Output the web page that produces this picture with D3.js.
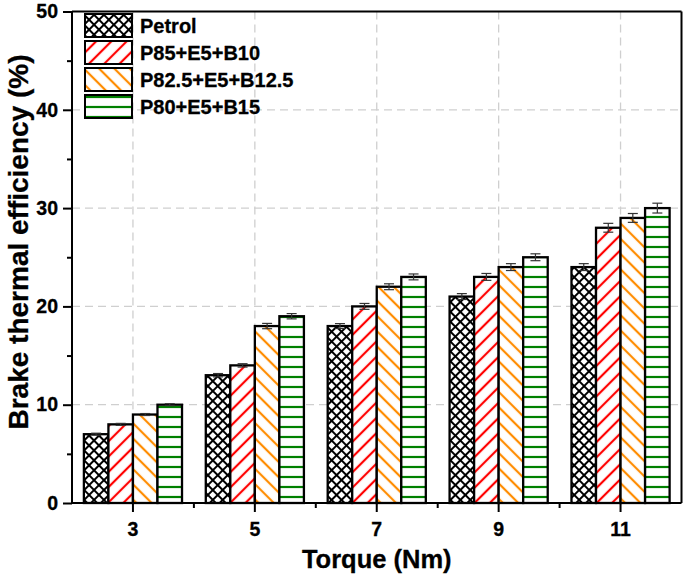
<!DOCTYPE html>
<html>
<head>
<meta charset="utf-8">
<script src="https://cdn.jsdelivr.net/npm/d3@7/dist/d3.min.js"></script>
<style>
  html, body { margin: 0; padding: 0; background: #fff; }
  svg { display: block; }
  text { font-family: "Liberation Sans", Arial, sans-serif; font-weight: bold; }
</style>
</head>
<body>
<div id="chart"></div>
<script>
const categories = ["3", "5", "7", "9", "11"];
const seriesNames = ["Petrol", "P85+E5+B10", "P82.5+E5+B12.5", "P80+E5+B15"];
const petrol = [7, 13, 18, 21, 24];
const p85 = [8, 14, 20, 23, 28];
const p825 = [9, 18, 22, 24, 29];
const p80 = [10, 19, 23, 25, 30];
const petrolErr = [0.1, 0.17, 0.25, 0.3, 0.35];
const p85Err = [0.1, 0.17, 0.3, 0.35, 0.45];
const p825Err = [0.1, 0.27, 0.3, 0.35, 0.45];
const p80Err = [0.1, 0.27, 0.3, 0.35, 0.5];
const yTicks = [0, 10, 20, 30, 40, 50];
const yMinorTicks = [5, 15, 25, 35, 45];

const seriesValues = [petrol, p85, p825, p80];
const seriesErrors = [petrolErr, p85Err, p825Err, p80Err];

const W = 685, H = 577;
const L = 72, R = 681.5, T = 11.5, B = 503;

const svg = d3.select("#chart").append("svg").attr("width", W).attr("height", H);
const defs = svg.append("defs");

// patterns
function linePattern(id, color, size, angle, sw) {
  const p = defs.append("pattern").attr("id", id)
    .attr("patternUnits", "userSpaceOnUse")
    .attr("width", size).attr("height", size)
    .attr("patternTransform", `rotate(${angle})`);
  p.append("rect").attr("width", size).attr("height", size).attr("fill", "#fff");
  p.append("line").attr("x1", 0).attr("y1", -1).attr("x2", 0).attr("y2", size + 1)
    .attr("stroke", color).attr("stroke-width", sw);
  p.append("line").attr("x1", size).attr("y1", -1).attr("x2", size).attr("y2", size + 1)
    .attr("stroke", color).attr("stroke-width", sw);
  return p;
}
const cs = 7;
const cross = linePattern("pat0", "#000", cs, 45, 2);
cross.append("line").attr("x1", -1).attr("y1", 0).attr("x2", cs + 1).attr("y2", 0)
  .attr("stroke", "#000").attr("stroke-width", 2);
cross.append("line").attr("x1", -1).attr("y1", cs).attr("x2", cs + 1).attr("y2", cs)
  .attr("stroke", "#000").attr("stroke-width", 2);
linePattern("pat1", "#ff0000", 10.8, 45, 2.2);
linePattern("pat2", "#ff8c00", 10.8, -45, 2.2);
const hp = defs.append("pattern").attr("id", "pat3")
  .attr("patternUnits", "userSpaceOnUse").attr("width", 10).attr("height", 10)
  .attr("y", 2);
hp.append("rect").attr("width", 10).attr("height", 10).attr("fill", "#fff");
hp.append("line").attr("x1", 0).attr("y1", 5).attr("x2", 10).attr("y2", 5)
  .attr("stroke", "#008000").attr("stroke-width", 2.2);

const x0 = d3.scaleBand().domain(categories).range([L, R]).paddingInner(0).paddingOuter(0);
const groupW = x0.bandwidth() * 0.805;
const x1 = d3.scaleBand().domain(d3.range(seriesNames.length)).range([0, groupW]);
const y = d3.scaleLinear().domain([0, 50]).range([B, T]);

// grid
const grid = svg.append("g");
yTicks.filter(v => v > 0 && v < 50).forEach(v => {
  grid.append("line").attr("x1", L).attr("x2", R).attr("y1", y(v)).attr("y2", y(v))
    .attr("stroke", "#cfcfcf").attr("stroke-width", 1.3).attr("stroke-dasharray", "8,5");
});
categories.forEach(c => {
  const cx = x0(c) + x0.bandwidth() / 2;
  grid.append("line").attr("x1", cx).attr("x2", cx).attr("y1", T).attr("y2", B)
    .attr("stroke", "#cfcfcf").attr("stroke-width", 1.3).attr("stroke-dasharray", "8,5");
});

// bars
const barsG = svg.append("g");
seriesValues.forEach((vals, si) => {
  barsG.selectAll(null).data(vals).enter().append("rect")
    .attr("x", (d, i) => x0(categories[i]) + (x0.bandwidth() - groupW) / 2 + x1(si))
    .attr("y", d => y(d))
    .attr("width", x1.bandwidth())
    .attr("height", d => B - y(d))
    .attr("fill", `url(#pat${si})`)
    .attr("stroke", "#000").attr("stroke-width", 2.3);
});

// error bars
const errG = svg.append("g").attr("stroke", "#333").attr("stroke-width", 1.2);
seriesValues.forEach((vals, si) => {
  vals.forEach((v, i) => {
    const e = seriesErrors[si][i];
    const cx = x0(categories[i]) + (x0.bandwidth() - groupW) / 2 + x1(si) + x1.bandwidth() / 2;
    errG.append("line").attr("x1", cx).attr("x2", cx).attr("y1", y(v - e)).attr("y2", y(v + e));
    [v - e, v + e].forEach(yy => {
      errG.append("line").attr("x1", cx - 5).attr("x2", cx + 5).attr("y1", y(yy)).attr("y2", y(yy));
    });
  });
});

// frame
svg.append("line").attr("x1", L).attr("x2", R).attr("y1", T).attr("y2", T).attr("stroke", "#000").attr("stroke-width", 2);
svg.append("line").attr("x1", R).attr("x2", R).attr("y1", T).attr("y2", B).attr("stroke", "#000").attr("stroke-width", 2);

// y axis
const yAxis = d3.axisLeft(y).tickValues(yTicks).tickSize(9).tickPadding(5).tickFormat(d3.format("d"));
const gy = svg.append("g").attr("transform", `translate(${L},0)`).call(yAxis);
gy.select(".domain").attr("stroke-width", 2).attr("d", `M0,${B}V${T}`);
gy.selectAll(".tick line").attr("stroke-width", 2);
gy.selectAll(".tick text").attr("font-size", 19.5).attr("font-family", "Liberation Sans, Arial, sans-serif").attr("font-weight", "bold").attr("fill", "#000")
  .attr("stroke", "#000").attr("stroke-width", 0.3);
const gym = svg.append("g").attr("transform", `translate(${L},0)`)
  .call(d3.axisLeft(y).tickValues(yMinorTicks).tickSize(5).tickFormat(""));
gym.select(".domain").remove();
gym.selectAll(".tick line").attr("stroke-width", 2);

// x axis
const xAxis = d3.axisBottom(x0).tickSize(9).tickPadding(10);
const gx = svg.append("g").attr("transform", `translate(0,${B})`).call(xAxis);
gx.select(".domain").attr("stroke-width", 2).attr("d", `M${L},0H${R}`);
gx.selectAll(".tick line").attr("stroke-width", 2);
gx.selectAll(".tick text").attr("font-size", 19.5).attr("font-family", "Liberation Sans, Arial, sans-serif").attr("font-weight", "bold").attr("fill", "#000")
  .attr("stroke", "#000").attr("stroke-width", 0.3);
// minor x ticks between categories
const minorX = categories.slice(1).map(c => x0(c));
svg.append("g").selectAll("line").data(minorX).enter().append("line")
  .attr("x1", d => d).attr("x2", d => d).attr("y1", B).attr("y2", B + 5)
  .attr("stroke", "#000").attr("stroke-width", 2);

// titles
svg.append("text").attr("x", (L + R) / 2).attr("y", 568).attr("text-anchor", "middle")
  .attr("font-size", 25.5).attr("stroke", "#000").attr("stroke-width", 0.3).text("Torque (Nm)");
svg.append("text").attr("transform", `translate(28,${242}) rotate(-90)`).attr("text-anchor", "middle")
  .attr("font-size", 28).attr("stroke", "#000").attr("stroke-width", 0.3).text("Brake thermal efficiency (%)");

// legend
const lg = svg.append("g");
seriesNames.forEach((name, i) => {
  const top = 14 + i * 27;
  lg.append("rect").attr("x", 85).attr("y", top).attr("width", 47).attr("height", 23)
    .attr("fill", `url(#pat${i})`).attr("stroke", "#000").attr("stroke-width", 2);
  lg.append("text").attr("x", 140).attr("y", top + 19).attr("font-size", 20)
    .attr("stroke", "#000").attr("stroke-width", 0.3).text(name);
});
</script>
</body>
</html>
